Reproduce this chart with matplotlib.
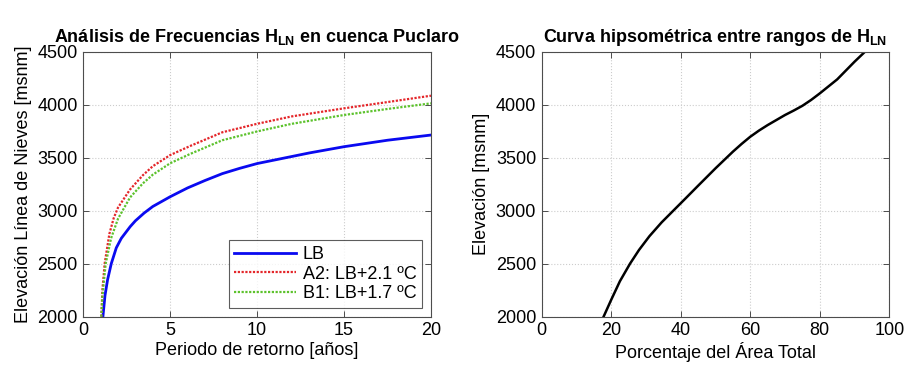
import matplotlib
matplotlib.use("Agg")
import matplotlib.pyplot as plt

plt.rcParams["font.family"] = ["Liberation Sans", "DejaVu Sans"]
plt.rcParams["mathtext.fontset"] = "custom"
plt.rcParams["mathtext.rm"] = "Liberation Sans"
plt.rcParams["mathtext.bf"] = "Liberation Sans:bold"

# Frequency analysis of snow-line elevation (return period in years vs elevation)
t_lb = [1.13, 1.25, 1.4, 1.61, 1.9, 2.19, 2.7, 3.0, 3.5, 4, 5, 6, 7, 8, 9, 10, 11.5, 13, 15, 17.5, 20]
h_lb = [2000, 2200, 2350, 2500, 2650, 2740, 2850, 2905, 2978, 3040, 3132, 3215, 3285, 3350, 3400,
        3445, 3495, 3545, 3604, 3665, 3714]

t_a2 = [1.04, 1.1, 1.23, 1.5, 1.75, 2.0, 2.69, 3.43, 4, 5, 6.14, 7, 8, 10, 12, 15, 17.5, 20]
h_a2 = [2000, 2250, 2500, 2780, 2930, 3030, 3200, 3335, 3420, 3525, 3610, 3670, 3740, 3820, 3890,
        3966, 4025, 4085]

t_b1 = [1.04, 1.1, 1.29, 1.6, 2.0, 2.69, 3.43, 4, 5, 6.14, 7, 8, 10, 12, 15, 17.5, 20]
h_b1 = [2000, 2190, 2500, 2740, 2925, 3125, 3258, 3340, 3448, 3535, 3595, 3665, 3748, 3820,
        3903, 3960, 4013]

series_labels = ["LB", "A2: LB+2.1 ºC", "B1: LB+1.7 ºC"]

# Hypsometric curve
area_pct = [17.8, 20.0, 22.5, 25.4, 28.0, 31.0, 34.5, 38.0, 41.5, 45.0, 50.0, 55.0, 57.5, 60.0,
            62.5, 65.0, 70.0, 72.5, 75.0, 77.5, 80.0, 85.0, 90.0, 93.0]
elev_hyp = [2000, 2160, 2335, 2500, 2630, 2760, 2890, 3005, 3120, 3236, 3400, 3557, 3630, 3698,
            3756, 3808, 3903, 3945, 3990, 4045, 4107, 4239, 4406, 4500]

fig = plt.figure(figsize=(9.06, 3.65), dpi=100)
ax1 = fig.add_axes([0.0919, 0.1323, 0.3838, 0.726])
ax2 = fig.add_axes([0.5979, 0.1323, 0.3837, 0.726])

FS = 13


def style(ax):
    ax.grid(True, linestyle=":", color="#cccccc", linewidth=0.8)
    ax.tick_params(direction="in", top=True, right=True, labelsize=FS, length=4,
                   color="#333333", width=0.6, pad=4)
    for s in ax.spines.values():
        s.set_color("#4d4d4d")
        s.set_linewidth(0.8)
    ax.set_axisbelow(True)


ax1.plot(t_lb, h_lb, color="#0a0af0", linewidth=2.0, label=series_labels[0])
ax1.plot(t_a2, h_a2, color="#e4262a", linewidth=1.6, linestyle=(0, (1, 0.7)), label=series_labels[1])
ax1.plot(t_b1, h_b1, color="#5cc22c", linewidth=1.6, linestyle=(0, (1, 0.7)), label=series_labels[2])
ax1.set_xlim(0, 20)
ax1.set_ylim(2000, 4500)
ax1.set_xticks([0, 5, 10, 15, 20])
ax1.set_yticks([2000, 2500, 3000, 3500, 4000, 4500])
ax1.set_xlabel("Periodo de retorno [años]", fontsize=FS, labelpad=2)
ax1.set_ylabel("Elevación Línea de Nieves [msnm]", fontsize=FS, labelpad=4)
ax1.set_title(r"Análisis de Frecuencias $\mathbf{H_{LN}}$ en cuenca Puclaro",
              fontsize=FS, fontweight="bold", pad=7)
style(ax1)
leg = ax1.legend(loc="lower right", fontsize=FS, frameon=True, fancybox=False,
                 edgecolor="#333333", borderaxespad=0.5, handlelength=3.4,
                 labelspacing=0.15, borderpad=0.3, handletextpad=0.4)
leg.get_frame().set_linewidth(0.8)

ax2.plot(area_pct, elev_hyp, color="black", linewidth=1.8)
ax2.set_xlim(0, 100)
ax2.set_ylim(2000, 4500)
ax2.set_xticks([0, 20, 40, 60, 80, 100])
ax2.set_yticks([2000, 2500, 3000, 3500, 4000, 4500])
ax2.set_xlabel("Porcentaje del Área Total", fontsize=FS, labelpad=2)
ax2.set_ylabel("Elevación [msnm]", fontsize=FS, labelpad=4)
ax2.set_title(r"Curva hipsométrica entre rangos de $\mathbf{H_{LN}}$",
              fontsize=FS, fontweight="bold", pad=7)
style(ax2)

fig.savefig("out.png", dpi=100)
